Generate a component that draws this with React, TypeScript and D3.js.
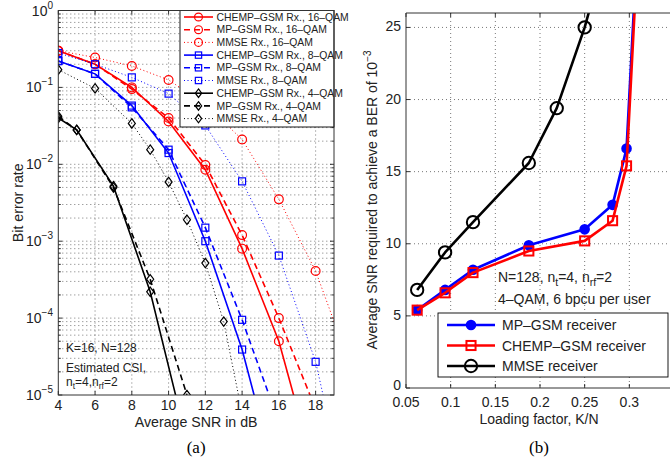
import React from "react";
import * as d3 from "d3";

// ---------- Data: panel (a) ----------
const snrEven = [4, 6, 8, 10, 12, 14, 16, 18];
const snrMmse = [4, 6, 8, 10, 12, 14, 16, 18, 20];
const snr4 = [4, 5, 7, 9, 11];
const snrMmse4 = [4, 6, 8, 9, 10, 11, 12, 13, 14];

const chemp16 = [0.3, 0.2, 0.1, 0.036, 0.0085, 8e-4, 5e-5, 9e-7];
const mp16 = [0.3, 0.2, 0.095, 0.04, 0.0098, 1.2e-3, 1e-4, 6.6e-6];
const mmse16 = [0.3, 0.245, 0.19, 0.125, 0.06, 0.021, 3.5e-3, 4.1e-4, 2e-5];
const chemp8 = [0.22, 0.15, 0.058, 0.014, 1e-3, 3.9e-5, 6e-7];
const mp8 = [0.22, 0.15, 0.055, 0.0155, 1.5e-3, 9.5e-5, 4.4e-6];
const mmse8 = [0.28, 0.2, 0.135, 0.083, 0.032, 6e-3, 6.5e-4, 2.7e-5, 2e-7];
const chemp4 = [0.04, 0.028, 5.2e-3, 2.2e-4, 2.5e-6];
const mp4 = [0.042, 0.028, 5e-3, 3.2e-4, 1e-5];
const mmse4 = [0.17, 0.097, 0.034, 0.0155, 5.9e-3, 1.9e-3, 5.2e-4, 9e-5, 5.8e-6];

const xTicksA = [4, 6, 8, 10, 12, 14, 16, 18];
const yExpA = [0, -1, -2, -3, -4, -5];

// ---------- Data: panel (b) ----------
const lfMmse = [0.0625, 0.09375, 0.125, 0.1875, 0.21875, 0.25, 0.28125];
const snrReqMmse = [6.8, 9.4, 11.5, 15.6, 19.4, 25.0, 32];
const lfGsm = [0.0625, 0.09375, 0.125, 0.1875, 0.25, 0.28125, 0.296875, 0.3125];
const snrReqMp = [5.4, 6.8, 8.2, 9.9, 11.0, 12.7, 16.6, 35];
const snrReqChemp = [5.4, 6.6, 8.0, 9.5, 10.2, 11.6, 15.4, 34];

const xTicksB = [0.05, 0.1, 0.15, 0.2, 0.25, 0.3];
const yTicksB = [0, 5, 10, 15, 20, 25];

const FONT = "'Liberation Sans', Arial, Helvetica, sans-serif";
const SERIF = "'Liberation Serif', 'Times New Roman', serif";
const RED = "#ff0000";
const BLUE = "#0000ff";
const BLACK = "#000000";

type Shape = "circle" | "square" | "diamond" | "dot";

function Marker({ x, y, shape, color, size = 1, sw = 1.2 }: { x: number; y: number; shape: Shape; color: string; size?: number; sw?: number }) {
  if (shape === "circle") return <circle cx={x} cy={y} r={4.4 * size} fill="none" stroke={color} strokeWidth={sw} />;
  if (shape === "dot") return <circle cx={x} cy={y} r={4.3 * size} fill={color} stroke={color} strokeWidth={sw} />;
  if (shape === "square") {
    const s = 3.5 * size;
    return <rect x={x - s} y={y - s} width={2 * s} height={2 * s} fill="none" stroke={color} strokeWidth={sw} />;
  }
  const h = 4.7 * size, w = 3.5 * size;
  return <path d={`M${x},${y - h}L${x + w},${y}L${x},${y + h}L${x - w},${y}Z`} fill="none" stroke={color} strokeWidth={sw} />;
}

export default function App() {
  // ---------- Panel (a) scales ----------
  const xA = d3.scaleLinear().domain([4, 19]).range([58.3, 334]);
  const yA = d3.scaleLog().domain([1e-5, 1]).range([395, 10.5]);
  const [aL, aR] = xA.range();
  const [aB, aT] = yA.range();

  const lineA = d3.line<[number, number]>().x((d) => xA(d[0])).y((d) => yA(d[1]));

  const seriesA = [
    { name: "CHEMP\u2013GSM Rx., 16\u2013QAM", xs: snrEven, ys: chemp16, color: RED, dash: "none", shape: "circle" as Shape, w: 1.6 },
    { name: "MP\u2013GSM Rx., 16\u2013QAM", xs: snrEven, ys: mp16, color: RED, dash: "6 4", shape: "circle" as Shape, w: 1.6 },
    { name: "MMSE Rx., 16\u2013QAM", xs: snrMmse, ys: mmse16, color: RED, dash: "1 2.5", shape: "circle" as Shape, w: 1 },
    { name: "CHEMP\u2013GSM Rx., 8\u2013QAM", xs: snrEven, ys: chemp8, color: BLUE, dash: "none", shape: "square" as Shape, w: 1.6 },
    { name: "MP\u2013GSM Rx., 8\u2013QAM", xs: snrEven, ys: mp8, color: BLUE, dash: "6 4", shape: "square" as Shape, w: 1.6 },
    { name: "MMSE Rx., 8\u2013QAM", xs: snrMmse, ys: mmse8, color: BLUE, dash: "1 2.5", shape: "square" as Shape, w: 1 },
    { name: "CHEMP\u2013GSM Rx., 4\u2013QAM", xs: snr4, ys: chemp4, color: BLACK, dash: "none", shape: "diamond" as Shape, w: 1.6 },
    { name: "MP\u2013GSM Rx., 4\u2013QAM", xs: snr4, ys: mp4, color: BLACK, dash: "6 4", shape: "diamond" as Shape, w: 1.6 },
    { name: "MMSE Rx., 4\u2013QAM", xs: snrMmse4, ys: mmse4, color: BLACK, dash: "1 2.5", shape: "diamond" as Shape, w: 1 },
  ];

  const minorA: number[] = [];
  for (let e = -5; e < 0; e++) for (let m = 2; m <= 9; m++) minorA.push(m * Math.pow(10, e));

  // ---------- Panel (b) scales ----------
  const xB = d3.scaleLinear().domain([0.05, 0.35]).range([406, 674]);
  const yB = d3.scaleLinear().domain([0, 26]).range([388, 13]);
  const [bL, bR] = xB.range();
  const [bB, bT] = yB.range();
  const lineB = d3.line<[number, number]>().x((d) => xB(d[0])).y((d) => yB(d[1]));

  const seriesB = [
    { name: "MP\u2013GSM receiver", xs: lfGsm, ys: snrReqMp, color: BLUE, shape: "dot" as Shape, size: 1 },
    { name: "CHEMP\u2013GSM receiver", xs: lfGsm, ys: snrReqChemp, color: RED, shape: "square" as Shape, size: 1.3 },
    { name: "MMSE receiver", xs: lfMmse, ys: snrReqMmse, color: BLACK, shape: "circle" as Shape, size: 1.4 },
  ];

  const gridStyle = { stroke: "#555", strokeWidth: 0.8, strokeDasharray: "1 3" };

  const legRowsA = seriesA.map((_, i) => 17 + i * 12.7);
  const legRowsB = [325, 345.5, 366];

  return (
    <svg width={670} height={457} style={{ position: "absolute", left: 0, top: 0, background: "#fff" }} fontFamily={FONT}>
      <defs>
        <clipPath id="clipA"><rect x={aL} y={aT} width={aR - aL} height={aB - aT} /></clipPath>
        <clipPath id="clipB"><rect x={bL} y={bT} width={bR - bL} height={bB - bT} /></clipPath>
      </defs>
      <rect width={670} height={457} fill="#fff" />

      {/* ===== Panel (a) ===== */}
      <g>
        {xTicksA.slice(1).map((t) => (
          <line key={"gx" + t} x1={xA(t)} x2={xA(t)} y1={aT} y2={aB} {...gridStyle} />
        ))}
        {yExpA.slice(1, -1).map((e) => (
          <line key={"gy" + e} x1={aL} x2={aR} y1={yA(Math.pow(10, e))} y2={yA(Math.pow(10, e))} {...gridStyle} />
        ))}
        {minorA.map((v, i) => (
          <line key={"gm" + i} x1={aL} x2={aR} y1={yA(v)} y2={yA(v)} {...gridStyle} />
        ))}
        {xTicksA.map((t) => (
          <g key={"tx" + t}>
            <line x1={xA(t)} x2={xA(t)} y1={aB} y2={aB - 4} stroke="#000" strokeWidth={0.8} />
            <line x1={xA(t)} x2={xA(t)} y1={aT} y2={aT + 4} stroke="#000" strokeWidth={0.8} />
          </g>
        ))}
        {minorA.map((v, i) => (
          <g key={"tm" + i}>
            <line x1={aL} x2={aL + 2.5} y1={yA(v)} y2={yA(v)} stroke="#000" strokeWidth={0.8} />
            <line x1={aR} x2={aR - 2.5} y1={yA(v)} y2={yA(v)} stroke="#000" strokeWidth={0.8} />
          </g>
        ))}
        {yExpA.map((e) => (
          <g key={"ty" + e}>
            <line x1={aL} x2={aL + 4} y1={yA(Math.pow(10, e))} y2={yA(Math.pow(10, e))} stroke="#000" strokeWidth={0.8} />
            <line x1={aR} x2={aR - 4} y1={yA(Math.pow(10, e))} y2={yA(Math.pow(10, e))} stroke="#000" strokeWidth={0.8} />
          </g>
        ))}

        <g clipPath="url(#clipA)">
          {seriesA.map((s, i) => {
            const pts = s.xs.map((x, j) => [x, s.ys[j]] as [number, number]);
            return (
              <g key={"sa" + i}>
                <path d={lineA(pts) || ""} fill="none" stroke={s.color} strokeWidth={s.w} strokeDasharray={s.dash} />
                {pts.filter((p) => p[1] >= 1e-5 * 0.98 && p[0] <= 19).map((p, j) => (
                  <Marker key={j} x={xA(p[0])} y={yA(p[1])} shape={s.shape} color={s.color} />
                ))}
              </g>
            );
          })}
        </g>

        {/* annotation */}
        <g fontSize={12} fill="#222">
          <text x={66} y={352}>K=16, N=128</text>
          <text x={66} y={372}>Estimated CSI,</text>
          <text x={66} y={386}>
            n<tspan dy={3} fontSize={8.5}>t</tspan><tspan dy={-3}>=4,n</tspan><tspan dy={3} fontSize={8.5}>rf</tspan><tspan dy={-3}>=2</tspan>
          </text>
        </g>

        {/* legend */}
        <rect x={180} y={aT} width={aR - 180} height={127 - aT} fill="#fff" stroke="#000" strokeWidth={0.9} />
        {seriesA.map((s, i) => (
          <g key={"la" + i}>
            <line x1={184} x2={213} y1={legRowsA[i]} y2={legRowsA[i]} stroke={s.color} strokeWidth={s.w} strokeDasharray={s.dash} />
            <Marker x={198.5} y={legRowsA[i]} shape={s.shape} color={s.color} size={0.9} />
            <text x={216.5} y={legRowsA[i]} dy="0.35em" fontSize={10.4} fill="#222">{s.name}</text>
          </g>
        ))}

        <rect x={aL} y={aT} width={aR - aL} height={aB - aT} fill="none" stroke="#333" strokeWidth={1} />

        <g fontSize={14} fill="#222">
          {xTicksA.map((t) => (
            <text key={"lx" + t} x={xA(t)} y={aB + 15} textAnchor="middle">{t}</text>
          ))}
          {yExpA.map((e) => (
            <text key={"ly" + e} x={53} y={yA(Math.pow(10, e)) + 5} textAnchor="end">
              10<tspan dy={-7} fontSize={10}>{e === 0 ? "0" : "\u2212" + Math.abs(e)}</tspan>
            </text>
          ))}
        </g>
        <text x={(aL + aR) / 2} y={427} textAnchor="middle" fontSize={14.2} fill="#222">Average SNR in dB</text>
        <text transform={`translate(23,${(aT + aB) / 2}) rotate(-90)`} textAnchor="middle" fontSize={14.2} fill="#222">Bit error rate</text>
        <text x={(aL + aR) / 2} y={453} textAnchor="middle" fontSize={17} fontFamily={SERIF} fill="#000">(a)</text>
      </g>

      {/* ===== Panel (b) ===== */}
      <g>
        {xTicksB.slice(1).map((t) => (
          <line key={"gbx" + t} x1={xB(t)} x2={xB(t)} y1={bT} y2={bB} {...gridStyle} />
        ))}
        {yTicksB.slice(1).map((t) => (
          <line key={"gby" + t} x1={bL} x2={bR} y1={yB(t)} y2={yB(t)} {...gridStyle} />
        ))}
        {xTicksB.map((t) => (
          <g key={"tbx" + t}>
            <line x1={xB(t)} x2={xB(t)} y1={bB} y2={bB - 4} stroke="#000" strokeWidth={0.8} />
            <line x1={xB(t)} x2={xB(t)} y1={bT} y2={bT + 4} stroke="#000" strokeWidth={0.8} />
          </g>
        ))}
        {yTicksB.map((t) => (
          <line key={"tby" + t} x1={bL} x2={bL + 4} y1={yB(t)} y2={yB(t)} stroke="#000" strokeWidth={0.8} />
        ))}

        <g clipPath="url(#clipB)">
          {seriesB.map((s, i) => {
            const pts = s.xs.map((x, j) => [x, s.ys[j]] as [number, number]);
            return (
              <g key={"sb" + i}>
                <path d={lineB(pts) || ""} fill="none" stroke={s.color} strokeWidth={2.6} strokeLinejoin="round" />
                {pts.filter((p) => p[1] <= 26).map((p, j) => (
                  <Marker key={j} x={xB(p[0])} y={yB(p[1])} shape={s.shape} color={s.color} size={s.size} sw={2} />
                ))}
              </g>
            );
          })}
        </g>

        <g fontSize={14} fill="#222">
          <text x={498} y={282}>
            N=128, n<tspan dy={4} fontSize={10.5}>t</tspan><tspan dy={-4}>=4, n</tspan><tspan dy={4} fontSize={10.5}>rf</tspan><tspan dy={-4}>=2</tspan>
          </text>
          <text x={498} y={304}>4{"\u2013"}QAM, 6 bpcu per user</text>
        </g>

        <rect x={438} y={313} width={230} height={64} fill="#fff" stroke="#000" strokeWidth={0.9} />
        {seriesB.map((s, i) => (
          <g key={"lb" + i}>
            <line x1={447} x2={495} y1={legRowsB[i]} y2={legRowsB[i]} stroke={s.color} strokeWidth={2.6} />
            <Marker x={471} y={legRowsB[i]} shape={s.shape} color={s.color} size={s.size} sw={2} />
            <text x={502} y={legRowsB[i]} dy="0.36em" fontSize={14} fill="#222">{s.name}</text>
          </g>
        ))}

        <path d={`M${bR},${bT}H${bL}V${bB}H${bR}`} fill="none" stroke="#333" strokeWidth={1} />

        <g fontSize={14} fill="#222">
          {xTicksB.map((t) => (
            <text key={"lbx" + t} x={xB(t)} y={bB + 19} textAnchor="middle">{d3.format("")(+t.toFixed(2))}</text>
          ))}
          {yTicksB.map((t) => (
            <text key={"lby" + t} x={bL - 5} y={yB(t) + (t === 0 ? 2 : 4)} textAnchor="end">{t}</text>
          ))}
        </g>
        <text x={539} y={424} textAnchor="middle" fontSize={14} fill="#222">Loading factor, K/N</text>
        <text transform={`translate(377,200) rotate(-90)`} textAnchor="middle" fontSize={14} fill="#222">
          Average SNR required to achieve a BER of 10<tspan dy={-6} fontSize={10}>{"\u2212"}3</tspan>
        </text>
        <text x={539} y={453} textAnchor="middle" fontSize={17} fontFamily={SERIF} fill="#000">(b)</text>
      </g>
    </svg>
  );
}
